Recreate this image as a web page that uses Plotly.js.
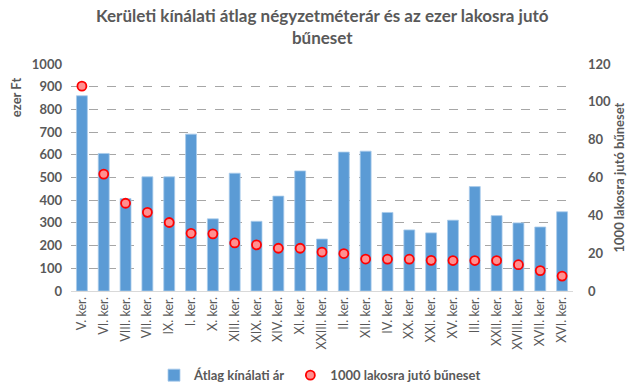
<!DOCTYPE html>
<html><head><meta charset="utf-8">
<script src="https://cdn.plot.ly/plotly-3.0.1.min.js"></script>
<style>html,body{margin:0;padding:0;background:#fff}#c{width:640px;height:390px}</style>
</head><body><div id="c"></div>
<script>
const categories = ["V. ker.","VI. ker.","VIII. ker.","VII. ker.","IX. ker.","I. ker.","X. ker.","XIII. ker.","XIX. ker.","XIV. ker.","XI. ker.","XXIII. ker.","II. ker.","XII. ker.","IV. ker.","XX. ker.","XXI. ker.","XV. ker.","III. ker.","XXII. ker.","XVIII. ker.","XVII. ker.","XVI. ker."];
const avgPrice = [860,606,407,503,503,691,318,519,307,418,529,229,612,616,346,269,256,312,460,332,300,282,349];
const crimes = [108.3,61.8,46.4,41.6,36.2,30.5,30.2,25.4,24.4,22.6,22.6,20.6,19.8,16.9,16.8,16.8,16.2,16.1,16.1,16.1,13.9,10.8,7.9];
const priceName = "Átlag kínálati ár";
const crimeName = "1000 lakosra jutó bűneset";

const FONT = "Lato, 'Open Sans', sans-serif";
const GRAY = "#595959";
const data = [
  {type:"bar", x:categories, y:avgPrice, name:priceName,
   marker:{color:"#5B9BD5", line:{color:"#A9CBEB", width:0.8}}, yaxis:"y"},
  {type:"scatter", mode:"markers", x:categories, y:crimes, name:crimeName, yaxis:"y2",
   marker:{color:"#FF9090", size:9, line:{color:"#FF0000", width:1.8}}}
];
const layout = {
  width:640, height:390,
  margin:{l:71, r:67, t:64, b:99, autoexpand:false},
  paper_bgcolor:"#fff", plot_bgcolor:"#fff",
  font:{family:FONT, color:GRAY, size:12},
  bargap:0.5,
  showlegend:true,
  legend:{orientation:"h", xref:"container", yref:"container", x:0.5, xanchor:"center", y:0.038, yanchor:"middle",
          font:{size:13, color:GRAY, family:FONT, weight:"bold"}, itemwidth:30, traceorder:"normal"},
  xaxis:{type:"category", range:[-0.5, categories.length-0.5], autorange:false, tickangle:-90, tickfont:{size:12.5, color:GRAY},
         showline:true, linecolor:"#D9D9D9", linewidth:1, ticks:"", showgrid:false, automargin:false},
  yaxis:{range:[0,1000], dtick:100, tickfont:{size:13, color:GRAY, weight:"bold"},
         showgrid:true, gridcolor:"#A6A6A6", griddash:"dash", gridwidth:1, zeroline:false,
         showline:false, ticks:"", ticklen:0, ticklabelstandoff:8, automargin:false},
  yaxis2:{range:[0,120], dtick:20, overlaying:"y", side:"right", showgrid:false, zeroline:false,
          tickfont:{size:13, color:GRAY, weight:"bold"}, ticks:"", ticklabelstandoff:14, automargin:false,
          title:{text:"<b>1000 lakosra jutó bűneset</b>", font:{size:13, color:GRAY}, standoff:4}},
  annotations:[
    {text:"<b>Kerületi kínálati átlag négyzetméterár és az ezer lakosra jutó<br>bűneset</b>",
     xref:"paper", yref:"paper", x:0.5, y:1.163, xanchor:"center", yanchor:"middle", align:"center",
     showarrow:false, font:{size:17, color:GRAY, family:FONT}},
    {text:"<b>ezer Ft</b>", xref:"paper", yref:"paper", x:-0.108, y:0.95, xanchor:"center", yanchor:"top",
     textangle:-90, showarrow:false, font:{size:13, color:GRAY, family:FONT}}]
};
Plotly.newPlot("c", data, layout, {displayModeBar:false, staticPlot:true});
</script></body></html>
